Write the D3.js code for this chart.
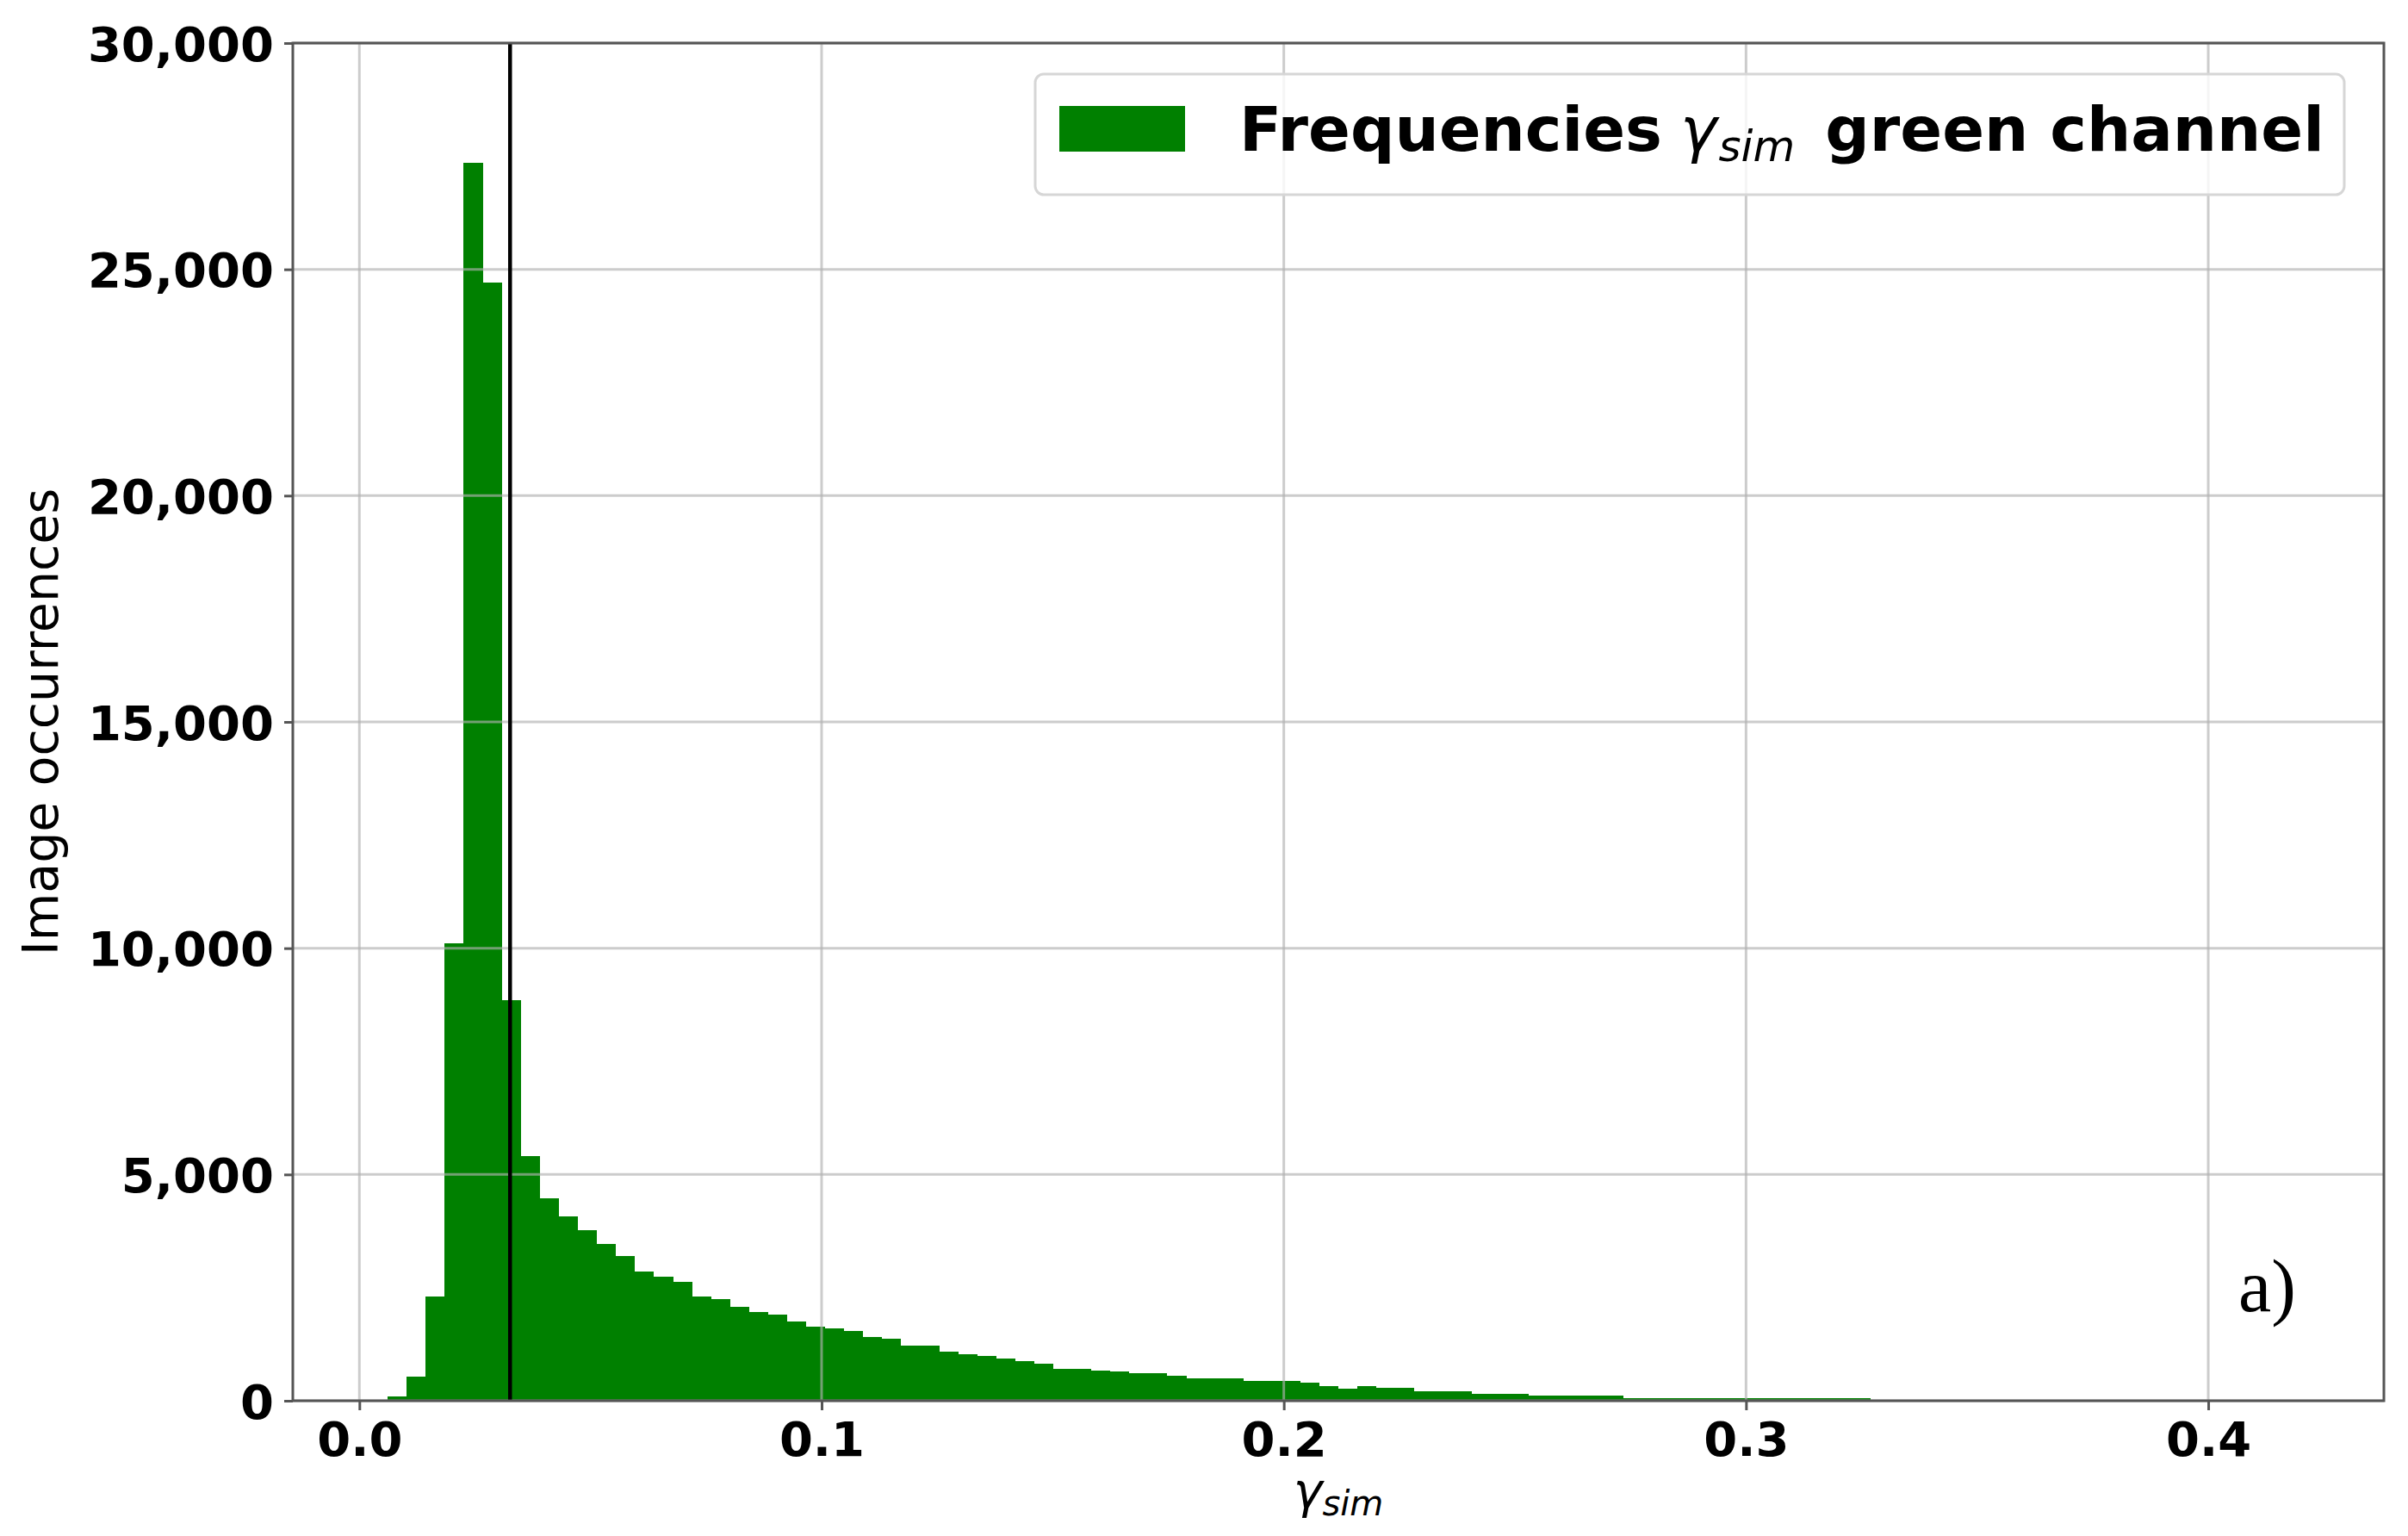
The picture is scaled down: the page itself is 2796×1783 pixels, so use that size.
<!DOCTYPE html>
<html>
<head>
<meta charset="utf-8">
<script src="https://cdn.jsdelivr.net/npm/d3@7"></script>
<style>
  html, body { margin: 0; padding: 0; background: #ffffff; }
  svg { display: block; }
</style>
</head>
<body>
<script>
// ---- data ----
const binStart = 0.0061;      // left edge of the first histogram bin
const binWidth = 0.004113;    // histogram bin width
const counts = [
  100, 530, 2300, 10100, 27350, 24700, 8850, 5410, 4470, 4080,
  3760, 3470, 3190, 2850, 2740, 2630, 2300, 2250, 2080, 1960,
  1910, 1750, 1640, 1590, 1535, 1415, 1370, 1210, 1210, 1090,
  1035, 990, 925, 875, 820, 705, 700, 660, 655, 605,
  600, 545, 495, 495, 490, 440, 438, 436, 393, 330,
  273, 324, 280, 278, 210, 208, 206, 160, 158, 156,
  122, 121, 120, 119, 118, 62, 62, 61, 61, 60,
  60, 60, 59, 59, 58, 58, 58, 57
];
const markerValue = 0.0326;   // vertical black line
const xTicks = [0.0, 0.1, 0.2, 0.3, 0.4];
const yTicks = [0, 5000, 10000, 15000, 20000, 25000, 30000];
const xDomain = [-0.0144, 0.4380];
const yDomain = [0, 30000];
const legendLabel = ["Frequencies ", "γ", "sim", " green channel"];
const xLabel = ["γ", "sim"];
const yLabel = "Image occurrences";
const panelTag = "a)";

// ---- layout ----
const W = 2796, H = 1783;
const L = 340, R = 2768, T = 50, B = 1626;
const barColor = "#008000";

const svg = d3.select("body").append("svg")
  .attr("width", W).attr("height", H)
  .style("background", "#ffffff");

const x = d3.scaleLinear().domain(xDomain).range([L, R]);
const y = d3.scaleLinear().domain(yDomain).range([B, T]);

const bins = counts.map((c, i) => ({
  x0: binStart + i * binWidth,
  x1: binStart + (i + 1) * binWidth,
  c
}));

// bars
svg.append("g").selectAll("rect").data(bins).join("rect")
  .attr("x", d => x(d.x0))
  .attr("width", d => x(d.x1) - x(d.x0) + 0.4)
  .attr("y", d => y(d.c))
  .attr("height", d => y(0) - y(d.c))
  .attr("fill", barColor)
  .attr("shape-rendering", "crispEdges");

// grid (on top, semi transparent)
const grid = svg.append("g").attr("stroke", "#b0b0b0").attr("stroke-opacity", 0.65).attr("stroke-width", 3);
grid.selectAll("line.gx").data(xTicks).join("line")
  .attr("x1", d => x(d)).attr("x2", d => x(d)).attr("y1", T).attr("y2", B);
grid.selectAll("line.gy").data(yTicks).join("line")
  .attr("x1", L).attr("x2", R).attr("y1", d => y(d)).attr("y2", d => y(d));

// vertical marker line
svg.append("line")
  .attr("x1", x(markerValue)).attr("x2", x(markerValue))
  .attr("y1", T).attr("y2", B)
  .attr("stroke", "#000").attr("stroke-width", 4.5);

// axes
const xAxis = d3.axisBottom(x).tickValues(xTicks).tickFormat(d3.format(".1f"))
  .tickSizeInner(11).tickSizeOuter(0).tickPadding(12);
const yAxis = d3.axisLeft(y).tickValues(yTicks).tickFormat(d3.format(","))
  .tickSizeInner(10).tickSizeOuter(0).tickPadding(12);

const gx = svg.append("g").attr("transform", `translate(0,${B})`).call(xAxis);
const gy = svg.append("g").attr("transform", `translate(${L},0)`).call(yAxis);
[gx, gy].forEach(g => {
  g.select(".domain").remove();
  g.selectAll(".tick line").attr("stroke", "#555").attr("stroke-width", 3);
  g.selectAll(".tick text")
    .attr("fill", "#000")
    .style("font-family", "'DejaVu Sans', sans-serif")
    .style("font-weight", "bold")
    .style("font-size", "56px");
});
gx.selectAll(".tick text").attr("dy", "0.74em");
gy.selectAll(".tick text").attr("dy", "0.36em");

// spines
svg.append("rect")
  .attr("x", L).attr("y", T).attr("width", R - L).attr("height", B - T)
  .attr("fill", "none").attr("stroke", "#555").attr("stroke-width", 3);

// legend
const lg = svg.append("g");
lg.append("rect")
  .attr("x", 1202).attr("y", 86).attr("width", 1520).attr("height", 140)
  .attr("rx", 10).attr("ry", 10)
  .attr("fill", "#ffffff").attr("fill-opacity", 0.8)
  .attr("stroke", "#d6d6d6").attr("stroke-width", 3);
lg.append("rect")
  .attr("x", 1230).attr("y", 123).attr("width", 146).attr("height", 53)
  .attr("fill", barColor);
const lt = lg.append("text")
  .attr("x", 1439).attr("y", 175)
  .attr("fill", "#000")
  .style("font-family", "'DejaVu Sans', sans-serif")
  .style("font-size", "72px");
lt.append("tspan").style("font-weight", "bold").text(legendLabel[0]);
lt.append("tspan").style("font-style", "italic").attr("dx", -4).text(legendLabel[1]);
lt.append("tspan").style("font-style", "italic").style("font-size", "50px").attr("dx", 2).attr("dy", 12).text(legendLabel[2]);
lt.append("tspan").style("font-weight", "bold").attr("dx", 10).attr("dy", -12).text(legendLabel[3]);

// x label
const xl = svg.append("text")
  .attr("x", (L + R) / 2).attr("y", 1750)
  .attr("text-anchor", "middle")
  .attr("fill", "#000")
  .style("font-family", "'DejaVu Sans', sans-serif")
  .style("font-size", "57px");
xl.append("tspan").style("font-style", "italic").text(xLabel[0]);
xl.append("tspan").style("font-style", "italic").style("font-size", "40px").attr("dy", 9).text(xLabel[1]);

// y label
svg.append("text")
  .attr("transform", `translate(67,${(T + B) / 2}) rotate(-90)`)
  .attr("text-anchor", "middle")
  .attr("fill", "#000")
  .style("font-family", "'DejaVu Sans', sans-serif")
  .style("font-size", "57px")
  .text(yLabel);

// panel tag
svg.append("text")
  .attr("x", 2599).attr("y", 1522)
  .attr("fill", "#000")
  .style("font-family", "'Liberation Serif', serif")
  .style("font-size", "86px")
  .text(panelTag);
</script>
</body>
</html>
